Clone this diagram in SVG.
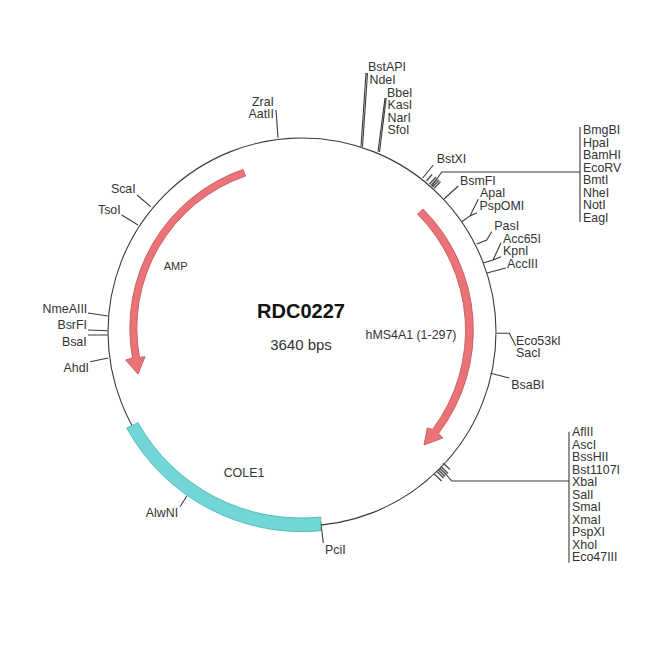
<svg xmlns="http://www.w3.org/2000/svg" width="650" height="650" viewBox="0 0 650 650">
<style>
text{font-family:"Liberation Sans",Arial,sans-serif;font-size:12.4px;fill:#333}
.e{text-anchor:end}.m{text-anchor:middle}
.l{fill:none;stroke:#3a3a3a;stroke-width:1.1}
.t{fill:none;stroke:#555;stroke-width:1.5}
.r{fill:#ea7377;stroke:#cf5f63;stroke-width:1}
</style>
<rect width="650" height="650" fill="#fff"/>
<g id="backbone"><circle cx="302" cy="332" r="194" class="l"/></g>
<g id="connectors">
<path class="l" d="M366 72.700L361 146.700M367.500 73L362.500 146.800M385 98L378 151.700M386.200 98L379.500 152"/>
<path class="l" d="M433.300 165L422.700 178M580 172H441.700L432 186M580 127V222"/>
<path class="t" d="M426.500 181L432 174.500M429.500 184L436 177M431 185.500L437.500 178.500M432.500 187L439 180M434 188.500L440.500 181.500"/>
<path class="l" d="M458.300 186L444 199M478.300 199.300L470 216L461.700 221.700M477 212.700L470 216M491.700 231.700L486.700 240L476.700 244"/>
<path class="l" d="M501 242.700L493 260L483 263M501 256.700L493 260M505.700 268L487 273"/>
<path class="l" d="M496.700 333.300H509.300L515.700 345.700M490.700 373.300L509.300 378"/>
<path class="l" d="M569 431.700V562.700M569 481H451.700L445 473"/>
<path class="t" d="M434 473.500L441.500 481M436.500 471L443.500 478M438 469.500L445 476.500M439.500 468L446.500 475M441 466.500L448 473.500M443 463L450 469.500"/>
<path class="l" d="M276 110L278 137.700M137 195L150.700 206.700M121.700 215L138 225M88 313L107.700 316M88 330L107.700 330.700M88 335H107.700M90 361.700L108.300 358M180 506.700L187 495.700M320.700 521.700L323.300 543"/>
</g>
<g id="AMP">
<path class="r" d="M243 169.500A168 168 0 0 0 132.500 358L125.700 360L138 374L145 356.700L139.500 357.500A161 161 0 0 1 245.500 176Z"/>
<text x="175.700" y="270" class="m" style="font-size:11px">AMP</text>
</g>
<g id="hMS4A1">
<path class="r" d="M423 209A171 171 0 0 1 438.500 433.500L442.700 438L424 445L427.300 428L432.500 429.500A165 165 0 0 0 417.500 214Z"/>
<text x="411" y="339" class="m">hMS4A1 (1-297)</text>
</g>
<g id="COLE1">
<path d="M126.700 428L138 422.700A187 187 0 0 0 320.700 517V530.700A200 200 0 0 1 126.700 428Z" fill="#72d6d6" stroke="#55bcbc"/>
<text x="244" y="477" class="m">COLE1</text>
</g>
<g id="title">
<text x="301" y="318" class="m" style="font-size:20px;font-weight:bold;fill:#111">RDC0227</text>
<text x="301" y="350" class="m" style="font-size:15px">3640 bps</text>
</g>
<g id="sites-top">
<text x="274" y="105.500" class="e">ZraI</text><text x="274" y="118" class="e">AatII</text>
<text x="135.700" y="193" class="e">ScaI</text><text x="120.700" y="214" class="e">TsoI</text>
<text x="368" y="71">BstAPI</text><text x="369.500" y="84">NdeI</text>
<text x="387" y="96.500">BbeI</text><text x="387.500" y="109">KasI</text><text x="387.500" y="121.500">NarI</text><text x="387.500" y="134">SfoI</text>
<text x="436.700" y="163">BstXI</text><text x="460" y="184.500">BsmFI</text><text x="480" y="197">ApaI</text><text x="479.500" y="209.500">PspOMI</text>
<text x="494.300" y="230">PasI</text><text x="503" y="242.500">Acc65I</text><text x="503" y="255">KpnI</text><text x="507" y="267.500">AccIII</text>
</g>
<g id="sites-list-1">
<text x="583" y="134">BmgBI</text><text x="583" y="146.500">HpaI</text><text x="583" y="159">BamHI</text><text x="583" y="171.500">EcoRV</text><text x="583" y="184">BmtI</text><text x="583" y="196.500">NheI</text><text x="583" y="209">NotI</text><text x="583" y="221.500">EagI</text>
</g>
<g id="sites-right">
<text x="516" y="344.500">Eco53kI</text><text x="516" y="357">SacI</text><text x="511.300" y="389">BsaBI</text>
</g>
<g id="sites-list-2">
<text x="572" y="436">AflII</text><text x="572" y="448.500">AscI</text><text x="572" y="461">BssHII</text><text x="572" y="473.500">Bst1107I</text><text x="572" y="486">XbaI</text><text x="572" y="498.500">SalI</text><text x="572" y="511">SmaI</text><text x="572" y="523.500">XmaI</text><text x="572" y="536">PspXI</text><text x="572" y="548.500">XhoI</text><text x="572" y="561">Eco47III</text>
</g>
<g id="sites-left">
<text x="87.300" y="313" class="e">NmeAIII</text><text x="87" y="329" class="e">BsrFI</text><text x="86.700" y="346" class="e">BsaI</text><text x="89" y="372" class="e">AhdI</text>
<text x="162" y="517" class="m">AlwNI</text><text x="325" y="554">PciI</text>
</g>
</svg>
